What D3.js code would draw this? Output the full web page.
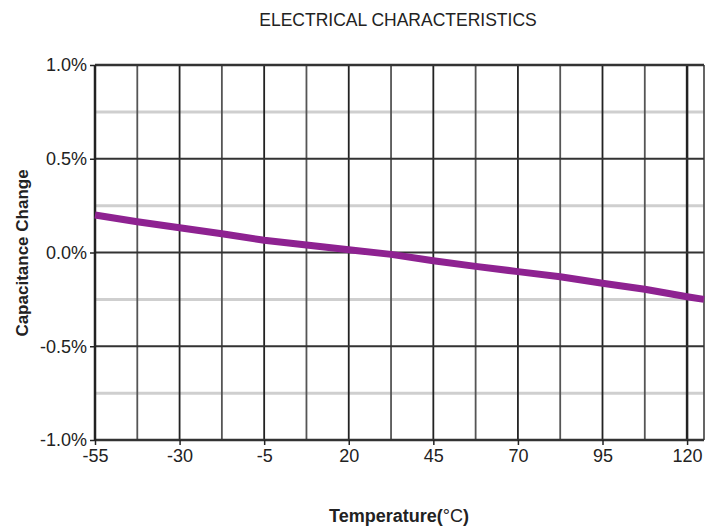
<!DOCTYPE html>
<html>
<head>
<meta charset="utf-8">
<script src="https://cdn.jsdelivr.net/npm/d3@7"></script>
<style>
  body { margin: 0; background: #fff; }
  svg { display: block; font-family: "Liberation Sans", Arial, sans-serif; }
  .tick text { font-size: 18px; fill: #222; }
</style>
</head>
<body>
<div id="chart"></div>
<script>
// temperature (°C) vs capacitance change (%)
var temps   = [-55, -42.5, -30, -17.5, -5, 7.5, 20, 32.5, 45, 57.5, 70, 82.5, 95, 107.5, 120, 125];
var changes = [0.20, 0.164, 0.132, 0.10, 0.065, 0.04, 0.015, -0.01, -0.044, -0.074, -0.102, -0.129, -0.164, -0.196, -0.236, -0.25];

var xTicks = [-55, -30, -5, 20, 45, 70, 95, 120];
var xGrid  = [-42.5, -30, -17.5, -5, 7.5, 20, 32.5, 45, 57.5, 70, 82.5, 95, 107.5, 120, 125];
var yTicks = [1.0, 0.5, 0.0, -0.5, -1.0];
var yMinor = [0.75, 0.25, -0.25, -0.75];

var width = 715, height = 531;
var margin = {top: 65, right: 11, bottom: 91, left: 95};
var w = width - margin.left - margin.right;
var h = height - margin.top - margin.bottom;

var svg = d3.select("#chart").append("svg")
    .attr("width", width)
    .attr("height", height);

svg.append("text")
    .attr("x", 398)
    .attr("y", 26)
    .attr("text-anchor", "middle")
    .style("font-size", "17.5px")
    .style("fill", "#222")
    .text("ELECTRICAL CHARACTERISTICS");

var g = svg.append("g")
    .attr("transform", "translate(" + margin.left + "," + margin.top + ")");

var x = d3.scaleLinear().domain([-55, 125]).range([0, w]);
var y = d3.scaleLinear().domain([-1, 1]).range([h, 0]);

// light minor horizontal lines
g.selectAll(".minor")
    .data(yMinor)
    .enter().append("line")
    .attr("x1", 0).attr("x2", w)
    .attr("y1", function(d) { return y(d); })
    .attr("y2", function(d) { return y(d); })
    .attr("stroke", "#cfcfcf")
    .attr("stroke-width", 3);

// vertical grid
g.selectAll(".vgrid")
    .data(xGrid)
    .enter().append("line")
    .attr("x1", function(d) { return x(d); })
    .attr("x2", function(d) { return x(d); })
    .attr("y1", 0).attr("y2", h)
    .attr("stroke", function(d) { return xTicks.indexOf(d) >= 0 ? "#222" : "#555"; })
    .attr("stroke-width", function(d) { return d == 120 ? 2.5 : 1.8; });

// major horizontal lines
g.selectAll(".major")
    .data(yTicks)
    .enter().append("line")
    .attr("x1", 0).attr("x2", w)
    .attr("y1", function(d) { return y(d); })
    .attr("y2", function(d) { return y(d); })
    .attr("stroke", "#333")
    .attr("stroke-width", function(d) { return (d == 1 || d == -1) ? 2.5 : 2; });

// left axis line
g.append("line")
    .attr("x1", 0).attr("x2", 0)
    .attr("y1", 0).attr("y2", h)
    .attr("stroke", "#222")
    .attr("stroke-width", 2.5);

var xAxis = g.append("g")
    .attr("transform", "translate(0," + h + ")")
    .call(d3.axisBottom(x).tickValues(xTicks).tickSize(5).tickPadding(4)
        .tickFormat(function(d) { return String(d); }));
xAxis.select(".domain").remove();
xAxis.selectAll(".tick line").attr("stroke", "#222").attr("stroke-width", 1.5);

var yAxis = g.append("g")
    .call(d3.axisLeft(y).tickValues(yTicks).tickSize(5).tickPadding(3)
        .tickFormat(function(d) { return d.toFixed(1) + "%"; }));
yAxis.select(".domain").remove();
yAxis.selectAll(".tick line").attr("stroke", "#222").attr("stroke-width", 1.5);

// curve
var line = d3.line()
    .x(function(d, i) { return x(temps[i]); })
    .y(function(d) { return y(d); });

g.append("path")
    .datum(changes)
    .attr("d", line)
    .attr("fill", "none")
    .attr("stroke", "#8e2291")
    .attr("stroke-width", 7)
    .attr("stroke-linejoin", "round");

// axis titles
var xt = svg.append("text")
    .attr("x", 399)
    .attr("y", 522)
    .attr("text-anchor", "middle")
    .style("font-size", "18px")
    .style("fill", "#222");
xt.append("tspan").style("font-weight", "bold").text("Temperature(");
xt.append("tspan").text("°C");
xt.append("tspan").style("font-weight", "bold").text(")");

svg.append("text")
    .attr("transform", "translate(28,253) rotate(-90)")
    .attr("text-anchor", "middle")
    .style("font-size", "17px")
    .style("font-weight", "bold")
    .style("fill", "#222")
    .text("Capacitance Change");
</script>
</body>
</html>
